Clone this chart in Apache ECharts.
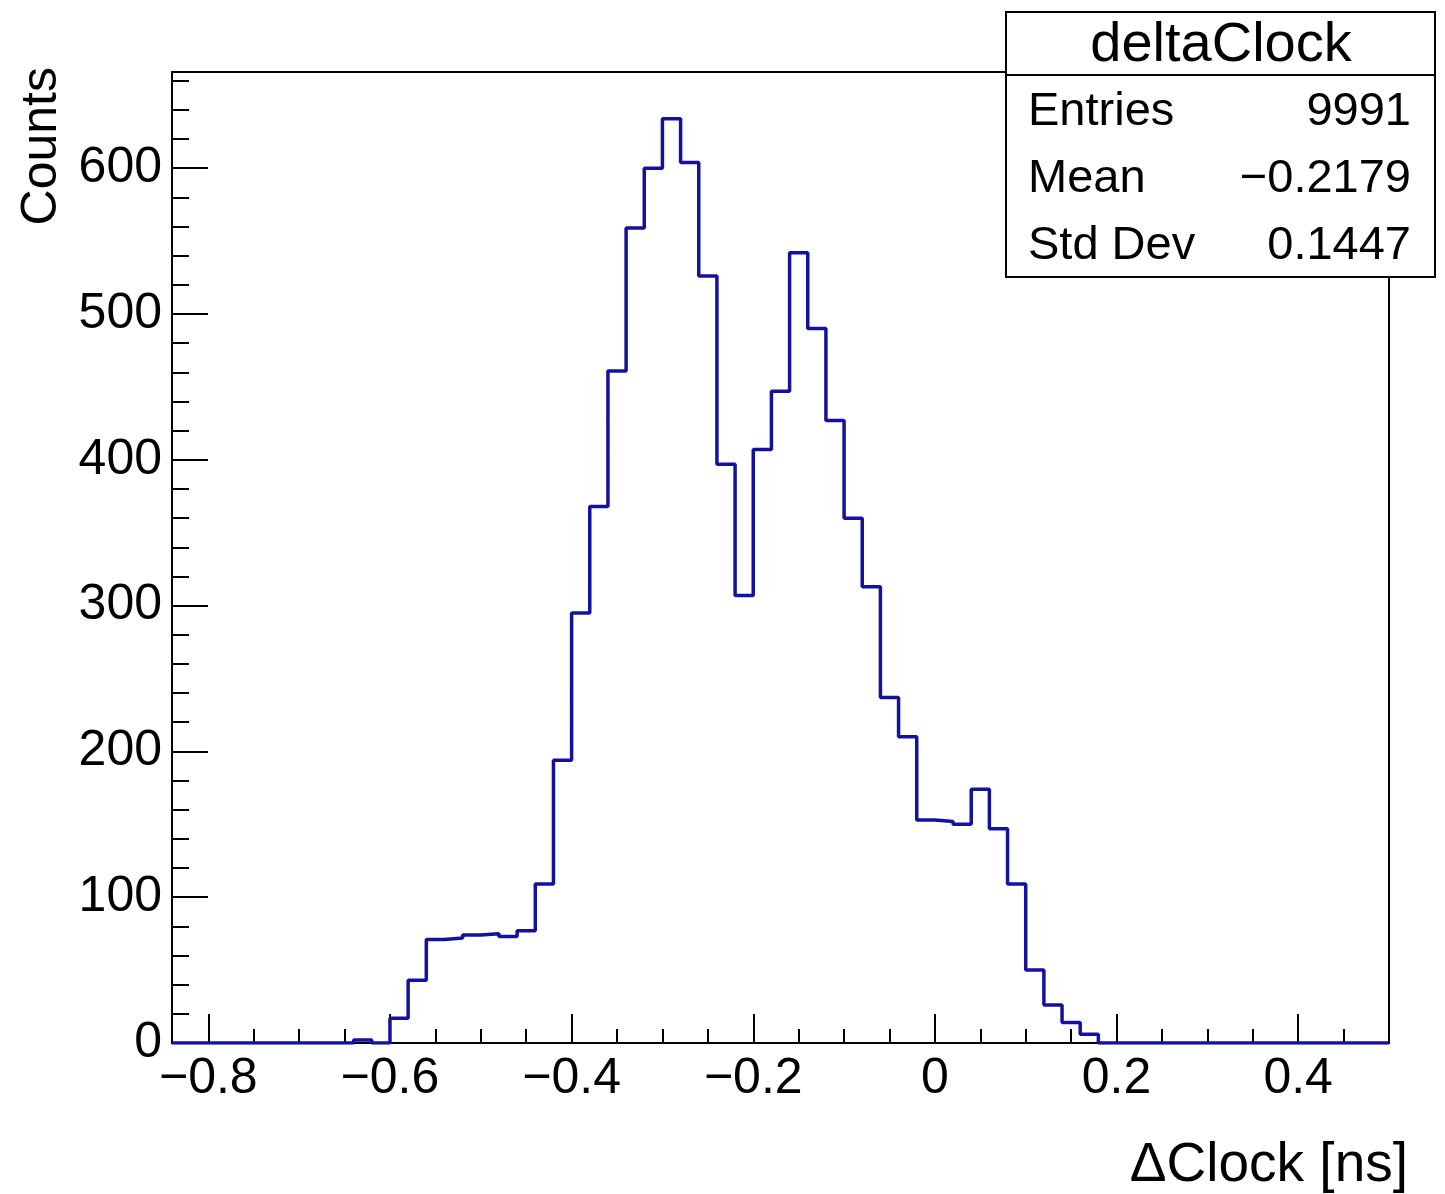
<!DOCTYPE html>
<html>
<head>
<meta charset="utf-8">
<script src="https://cdn.jsdelivr.net/npm/echarts@6/dist/echarts.min.js"></script>
<style>
  html, body { margin: 0; padding: 0; background: #ffffff; }
  #chart { width: 1445px; height: 1194px; }
</style>
</head>
<body>
<div id="chart"></div>
<script>
// ---- data ----
const binLow = -0.84;
const binWidth = 0.02;
const counts = [
  0, 0, 0, 0, 0, 0, 0, 0, 0, 0,
  2, 0,
  17, 43, 71, 72, 74, 75, 73, 77, 109, 194,
  295, 368, 461, 559, 600, 634, 604, 526, 397, 307,
  407, 447, 542, 490, 427, 360, 313, 237, 210, 153,
  152, 150, 174, 147, 109, 50, 26, 14, 6,
  0, 0, 0, 0, 0, 0, 0, 0, 0, 0, 0, 0, 0, 0, 0, 0
];
const xTicks = [-0.8, -0.6, -0.4, -0.2, 0, 0.2, 0.4];
const xMinorTicks = [-0.65, -0.75, -0.7, -0.55, -0.5, -0.45, -0.35, -0.3, -0.25, -0.15, -0.1, -0.05, 0.05, 0.1, 0.15, 0.25, 0.3, 0.35, 0.45, 0.5];
const yTicks = [0, 100, 200, 300, 400, 500, 600];
const yMinorTicks = [20, 40, 60, 80, 120, 140, 160, 180, 220, 240, 260, 280, 320, 340, 360, 380, 420, 440, 460, 480, 520, 540, 560, 580, 620, 640, 660];
const statsTitle = 'deltaClock';
const statsLabels = ['Entries', 'Mean', 'Std Dev'];
const statsValues = ['9991', '\u22120.2179', '0.1447'];
const xTitle = '\u0394Clock [ns]';
const yTitle = 'Counts';

// ---- build step points at bin edges ----
const nBins = counts.length;
const xMax = 0.5;
const stepData = [];
for (let i = 0; i < nBins; i++) {
  stepData.push([+(binLow + i * binWidth).toFixed(4), counts[i]]);
}
stepData.push([+(binLow + nBins * binWidth).toFixed(4), counts[nBins - 1]]);

const FONT = "'Liberation Sans', Arial, Helvetica, sans-serif";
const fmt = v => {
  const r = Math.round(v * 1000) / 1000;
  if (r < 0) return '\u2212' + String(Math.abs(r));
  return String(r);
};

const chart = echarts.init(document.getElementById('chart'), null, { renderer: 'canvas' });
const option = {
  animation: false,
  backgroundColor: '#ffffff',
  grid: {
    left: 172, top: 72, width: 1217, height: 971,
    show: true, borderColor: '#000000', borderWidth: 2, backgroundColor: '#ffffff'
  },
  xAxis: [
    {
      type: 'value', min: binLow, max: xMax, position: 'bottom',
      axisLine: { show: false, onZero: false },
      splitLine: { show: false },
      axisTick: { show: true, inside: true, length: 29, lineStyle: { color: '#000', width: 2 }, customValues: xTicks },
      axisLabel: {
        show: true, customValues: xTicks, formatter: fmt, margin: 11,
        color: '#000', fontSize: 50, fontFamily: FONT
      }
    },
    {
      type: 'value', min: binLow, max: xMax, position: 'bottom',
      axisLine: { show: false, onZero: false },
      splitLine: { show: false },
      axisTick: { show: true, inside: true, length: 14, lineStyle: { color: '#000', width: 2 }, customValues: xMinorTicks },
      axisLabel: { show: false }
    }
  ],
  yAxis: [
    {
      type: 'value', min: 0, max: 666, position: 'left',
      axisLine: { show: false, onZero: false },
      splitLine: { show: false },
      axisTick: { show: true, inside: true, length: 36, lineStyle: { color: '#000', width: 2 }, customValues: yTicks },
      axisLabel: {
        show: true, customValues: yTicks, margin: 10,
        color: '#000', fontSize: 50, fontFamily: FONT
      }
    },
    {
      type: 'value', min: 0, max: 666, position: 'left',
      axisLine: { show: false, onZero: false },
      splitLine: { show: false },
      axisTick: { show: true, inside: true, length: 17, lineStyle: { color: '#000', width: 2 }, customValues: yMinorTicks },
      axisLabel: { show: false }
    }
  ],
  series: [
    {
      type: 'line',
      xAxisIndex: 0, yAxisIndex: 0,
      data: stepData,
      step: 'end',
      showSymbol: false,
      symbol: 'none',
      clip: true,
      lineStyle: { color: '#12129e', width: 3.5 },
      z: 5
    }
  ],
  graphic: [
    {
      type: 'text', x: 1408, y: 1166,
      style: { text: xTitle, fill: '#000', font: "55px " + FONT, textAlign: 'right', textVerticalAlign: 'middle' }
    },
    {
      type: 'text', x: 42, y: 67, rotation: Math.PI / 2,
      style: { text: yTitle, fill: '#000', font: "50px " + FONT, textAlign: 'right', textVerticalAlign: 'middle' }
    },
    {
      type: 'rect', z: 100,
      shape: { x: 1006, y: 12, width: 429, height: 265 },
      style: { fill: '#ffffff', stroke: '#000000', lineWidth: 2 }
    },
    {
      type: 'line', z: 101,
      shape: { x1: 1006, y1: 75, x2: 1435, y2: 75 },
      style: { stroke: '#000000', lineWidth: 2 }
    },
    {
      type: 'text', z: 102, x: 1221, y: 46,
      style: { text: statsTitle, fill: '#000', font: "56px " + FONT, textAlign: 'center', textVerticalAlign: 'middle' }
    },
    ...statsLabels.map((t, i) => ({
      type: 'text', z: 102, x: 1028, y: 112 + i * 67,
      style: { text: t, fill: '#000', font: "47px " + FONT, textAlign: 'left', textVerticalAlign: 'middle' }
    })),
    ...statsValues.map((t, i) => ({
      type: 'text', z: 102, x: 1411, y: 112 + i * 67,
      style: { text: t, fill: '#000', font: "47px " + FONT, textAlign: 'right', textVerticalAlign: 'middle' }
    }))
  ]
};
chart.setOption(option);
</script>
</body>
</html>
